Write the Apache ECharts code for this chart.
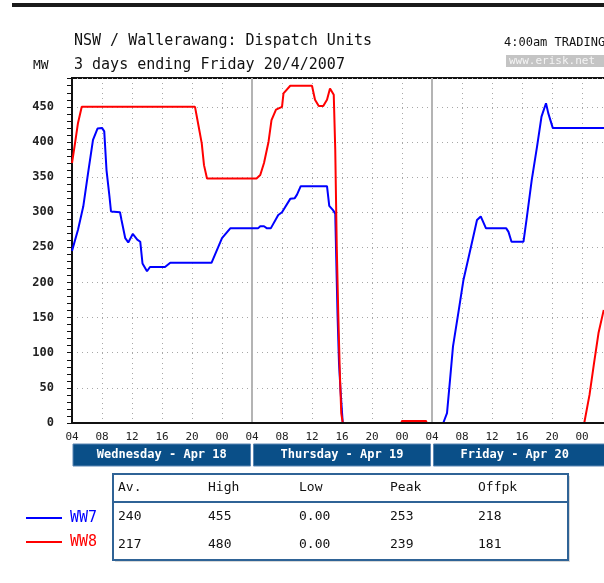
<!DOCTYPE html>
<html>
<head>
<meta charset="utf-8">
<script src="https://cdn.jsdelivr.net/npm/echarts@6/dist/echarts.min.js"></script>
<style>
html,body{margin:0;padding:0;background:#fff;}
#chart{width:604px;height:583px;}
</style>
</head>
<body>
<div id="chart"></div>
<script>
// ---- data (hours after Wednesday 04:00, MW) ----
var ww7 = [[0,245],[0.8,275],[1.5,308],[2.2,360],[2.8,403],[3.4,419],[4.0,420],[4.3,415],[4.6,360],[5.0,322],[5.2,301],[6.4,300],[6.6,289],[7.1,263],[7.5,257],[8.1,269],[8.7,261],[9.1,258],[9.4,227],[10.0,216],[10.4,222],[12.4,222],[13.1,228],[18.6,228],[20.0,263],[21.1,277],[24.8,277],[25.1,280],[25.6,280],[26.0,277],[26.5,277],[27.5,296],[28.0,300],[29.1,319],[29.7,320],[30.0,325],[30.5,337],[34.0,337],[34.3,309],[34.8,303],[35.1,298],[35.2,249],[35.4,156],[35.6,85],[35.8,47],[36.1,0],[49.5,0],[50.0,14],[50.4,61],[50.8,109],[51.5,156],[52.2,204],[52.8,232],[53.5,265],[54.0,289],[54.5,294],[55.2,277],[57.9,277],[58.2,272],[58.6,258],[60.2,258],[60.6,289],[61.3,346],[62.0,393],[62.6,436],[63.2,455],[63.5,441],[64.1,420],[72,420]];
var ww8 = [[0,370],[0.4,398],[0.8,427],[1.3,450],[16.4,450],[16.8,427],[17.3,398],[17.6,367],[18.0,348],[24.6,348],[25.1,353],[25.6,370],[26.2,400],[26.6,431],[27.2,446],[28.0,450],[28.2,469],[29.1,480],[32.0,480],[32.4,460],[32.9,451],[33.5,451],[34.0,460],[34.4,476],[34.9,467],[35.1,389],[35.3,251],[35.5,156],[35.7,75],[35.9,14],[36.1,0],[43.9,0],[44.0,3],[47.2,3],[47.3,0],[68.3,0],[69.0,40],[69.6,85],[70.2,128],[70.9,161]];
var hourLabels = ['04','08','12','16','20','00'];
var dayLabels = ['Wednesday - Apr 18','Thursday - Apr 19','Friday - Apr 20'];
var statHeaders = ['Av.','High','Low','Peak','Offpk'];
var ww7Stats = ['240','455','0.00','253','218'];
var ww8Stats = ['217','480','0.00','239','181'];
var seriesNames = ['WW7','WW8'];
var seriesColors = ['#0000ff','#ff0000'];

var MONO = '"DejaVu Sans Mono", "Liberation Mono", monospace';
var chart = echarts.init(document.getElementById('chart'));

// grid geometry (layout only)
var GL = 72, GT = 78, GW = 540, GB = 423;
function hx(h){ return GL + h * GW / 72; }

var graphics = [];
// top rule
graphics.push({type:'rect', shape:{x:12,y:3,width:600,height:4}, style:{fill:'#1a1a1a'}});
// erisk box
graphics.push({type:'rect', shape:{x:506,y:55,width:100,height:12}, style:{fill:'#c4c4c4'}});
graphics.push({type:'text', x:509, y:61, style:{text:'www.erisk.net', font:'11px '+MONO, fill:'#f4f4f4', verticalAlign:'middle'}});
// day bands
for (var d = 0; d < dayLabels.length; d++) {
  var x0 = hx(d*24) + (d===0 ? 1 : 1.5), x1 = hx((d+1)*24) - 1.5;
  graphics.push({type:'rect', shape:{x:x0,y:444,width:x1-x0,height:22}, style:{fill:'#0a4f88', stroke:'#5b86b3', lineWidth:1}});
  graphics.push({type:'text', x:(x0+Math.min(x1,604))/2 + (d===2?-4:0), y:455, style:{text:dayLabels[d], font:'bold 12px '+MONO, fill:'#ffffff', align:'center', verticalAlign:'middle'}});
}
// stats table
var TX = 113, TY = 474, TW = 455, TH = 86;
graphics.push({type:'rect', shape:{x:TX+2,y:TY+2,width:TW,height:TH}, style:{fill:'#d8d8d8'}});
graphics.push({type:'rect', shape:{x:TX,y:TY,width:TW,height:TH}, style:{fill:'#ffffff', stroke:'#2f6396', lineWidth:2}});
graphics.push({type:'line', shape:{x1:TX,y1:502,x2:TX+TW,y2:502}, style:{stroke:'#2f6396', lineWidth:2}});
var colX = [118, 208, 299, 390, 478];
var rows = [statHeaders, ww7Stats, ww8Stats];
var rowY = [488, 517, 545];
for (var r = 0; r < rows.length; r++) {
  for (var c = 0; c < rows[r].length; c++) {
    graphics.push({type:'text', x:colX[c], y:rowY[r], style:{text:rows[r][c], font:'13px '+MONO, fill:'#111', verticalAlign:'middle'}});
  }
}

var option = {
  animation: false,
  backgroundColor: '#ffffff',
  title: [
    {text:'NSW / Wallerawang: Dispatch Units', left:69, top:29, textStyle:{fontFamily:MONO, fontSize:15, fontWeight:'normal', color:'#111'}},
    {text:'3 days ending Friday 20/4/2007', left:69, top:53, textStyle:{fontFamily:MONO, fontSize:15, fontWeight:'normal', color:'#111'}},
    {text:'MW', left:28, top:54, textStyle:{fontFamily:MONO, fontSize:13, fontWeight:'normal', color:'#111'}},
    {text:'4:00am TRADING', left:499, top:32, textStyle:{fontFamily:MONO, fontSize:12, fontWeight:'normal', color:'#111'}}
  ],
  legend: {
    orient:'vertical', left:21, top:504, itemWidth:36, itemHeight:2, itemGap:6, icon:'rect',
    data: seriesNames.map(function(n,i){ return {name:n, icon:'rect', textStyle:{color:seriesColors[i]}}; }),
    textStyle:{fontFamily:MONO, fontSize:15, lineHeight:18, padding:[0,0,0,3]}
  },
  grid: {left:GL, top:GT, width:GW, height:GB-GT, show:true, borderColor:'#111', borderWidth:2, backgroundColor:'#fff', outerBoundsMode:'none', containLabel:false},
  xAxis: [
    {type:'value', position:'bottom', min:0, max:72, interval:4, z:10,
      axisLine:{show:true, onZero:false, lineStyle:{color:'#111', width:2}},
      axisTick:{show:false},
      splitLine:{show:false},
      axisLabel:{margin:9, fontFamily:MONO, fontSize:11, color:'#222',
        formatter:function(v){ return hourLabels[Math.round(v/4)%6]; }}},
    {type:'value', position:'top', min:0, max:72, interval:4,
      axisLine:{show:false}, axisTick:{show:false}, axisLabel:{show:false},
      splitLine:{show:true, lineStyle:{color:'#a8a8a8', type:[1,4], width:1}}},
    {type:'value', position:'top', min:0, max:72, interval:24,
      axisLine:{show:false}, axisTick:{show:false}, axisLabel:{show:false},
      splitLine:{show:true, lineStyle:{color:'#b4b4b4', type:'solid', width:2}}}
  ],
  yAxis: {
    type:'value', min:0, max:491, interval:50,
    axisLine:{show:true, lineStyle:{color:'#111', width:2}},
    axisTick:{show:true, length:5, lineStyle:{color:'#111', width:1}},
    minorTick:{show:true, splitNumber:5, length:5, lineStyle:{color:'#111', width:1}},
    splitLine:{show:true, lineStyle:{color:'#a8a8a8', type:[1,4], width:1}},
    axisLabel:{margin:18, fontFamily:MONO, fontSize:12, fontWeight:'bold', color:'#222', showMaxLabel:false,
      formatter:function(v){ return v % 50 === 0 ? String(v) : ''; }}
  },
  series: [
    {name:seriesNames[0], type:'line', data:ww7, xAxisIndex:0, symbol:'none', showSymbol:false, clip:true,
      lineStyle:{color:seriesColors[0], width:2}, itemStyle:{color:seriesColors[0]}, z:3},
    {name:seriesNames[1], type:'line', data:ww8, xAxisIndex:0, symbol:'none', showSymbol:false, clip:true,
      lineStyle:{color:seriesColors[1], width:2}, itemStyle:{color:seriesColors[1]}, z:4}
  ],
  graphic: graphics
};
chart.setOption(option);
</script>
</body>
</html>
